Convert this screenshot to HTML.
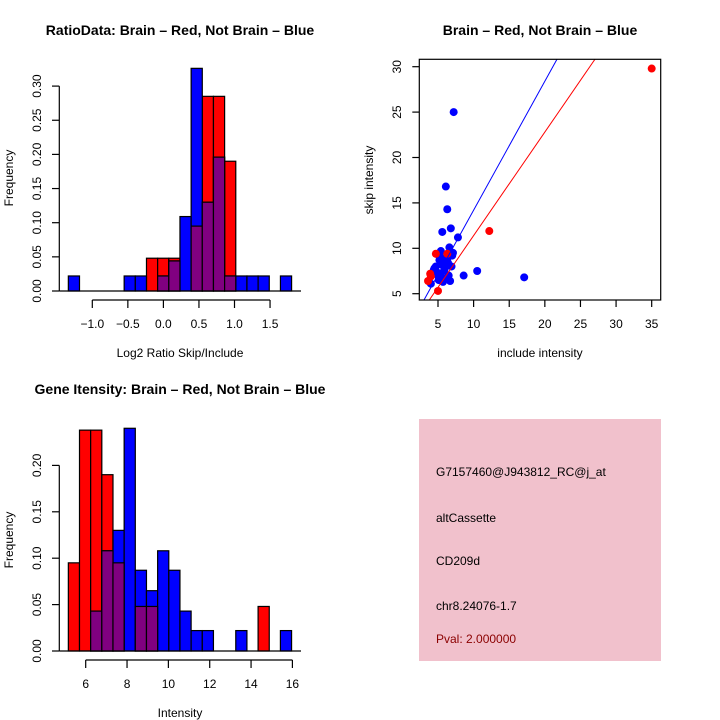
<!DOCTYPE html>
<html><head><meta charset="utf-8"><style>
body{margin:0;background:#fff}
svg{display:block;font-family:"Liberation Sans",sans-serif}
</style></head><body>
<svg id="c" width="720" height="720" viewBox="0 0 720 720" xmlns="http://www.w3.org/2000/svg">
<rect width="720" height="720" fill="#fff"/>
<g id="tl"></g>
<g id="tr"></g>
<g id="bl"></g>
<g id="br">
<rect x="419" y="419" width="242" height="242" fill="#f1c1cc"/>
<text x="436" y="476" font-size="12">G7157460@J943812_RC@j_at</text>
<text x="436" y="522" font-size="12">altCassette</text>
<text x="436" y="565" font-size="12">CD209d</text>
<text x="436" y="610" font-size="12">chr8.24076-1.7</text>
<text x="436" y="643" font-size="12" fill="#8b0000">Pval: 2.000000</text>
</g>
</svg>
<script>
const NS="http://www.w3.org/2000/svg";
// ratio histogram data
const ratioStart=-1.337, ratioWidth=0.157;
const ratioRed=[0,0,0,0,0,0,0,0.048,0.048,0.048,0,0.095,0.285,0.285,0.190,0,0,0,0,0];
const ratioBlue=[0.022,0,0,0,0,0.022,0.022,0,0.022,0.044,0.109,0.326,0.130,0.196,0.022,0.022,0.022,0.022,0,0.022];
const ratioXTicks=[-1.0,-0.5,0.0,0.5,1.0,1.5];
const ratioYTicks=[0,0.05,0.10,0.15,0.20,0.25,0.30];
// gene intensity histogram data
const intStart=5.16, intWidth=0.54;
const intRed=[0.095,0.238,0.238,0.190,0.095,0,0.048,0.048,0,0,0,0,0,0,0,0,0,0.048,0,0];
const intBlue=[0,0,0.043,0.108,0.130,0.240,0.087,0.065,0.108,0.087,0.043,0.022,0.022,0,0,0.022,0,0,0,0.022];
const intXTicks=[6,8,10,12,14,16];
const intYTicks=[0,0.05,0.10,0.15,0.20];
// scatter data
const redX=[35,12.2,5,4.7,6.3,3.6,4,3.9];
const redY=[29.8,11.9,5.3,9.4,9.4,6.4,6.9,7.2];
const blueX=[7.2,6.1,6.3,6.8,5.6,7.8,6.6,5.4,7.1,10.5,8.6,17.1,6.7,4,5,5.2,5.5,5.8,6,6.4,4.5,4.8,5.3,5.9,6.2,6.9,4.3,5.1,5.7,6.5,4.7,5.4,6.1,7,5,5.6,4.4,6.3];
const blueY=[25,16.8,14.3,12.2,11.8,11.2,10.1,9.7,9.5,7.5,7.0,6.8,6.4,6.1,9.3,8.7,8.2,8.5,7.9,8.4,7.8,7.4,7.2,7.6,6.8,8.0,7.3,6.5,6.3,7.0,8.0,9.0,8.6,9.2,7.0,6.6,7.6,8.8];
const scXTicks=[5,10,15,20,25,30,35];
const scYTicks=[5,10,15,20,25,30];
const blueSlope=1.42, redSlope=1.14;

function el(p,tag,a,name,txt){const e=document.createElementNS(NS,tag);for(const k in a)e.setAttribute(k,a[k]);


if(txt!==undefined)e.textContent=txt;p.appendChild(e);return e;}

function hist(g,o){
  const sx=v=>o.x0+(v-o.xv0)*o.xs, sy=v=>o.y0-v*o.ys;
  const draw=(arr,col,nm)=>arr.forEach((v,i)=>{if(v<=0)return;const a=sx(o.start+i*o.w),b=sx(o.start+(i+1)*o.w);
    el(g,'rect',{x:a,y:sy(v),width:b-a,height:sy(0)-sy(v),fill:col,stroke:'#000','stroke-width':1.2},nm+'-'+i);});
  draw(o.red,'#ff0000','bar-red');draw(o.blue,'#0000ff','bar-blue');
  draw(o.red.map((v,i)=>Math.min(v,o.blue[i])),'#800080','bar-overlap');
  el(g,'line',{x1:59.3,x2:301,y1:sy(0),y2:sy(0),stroke:'#000','stroke-width':1.2},'baseline');
  const yt=o.yt;
  el(g,'line',{x1:59.3,x2:59.3,y1:sy(yt[0]),y2:sy(yt[yt.length-1]),stroke:'#000','stroke-width':1.2},'y-axis');
  yt.forEach(t=>{el(g,'line',{x1:52,x2:59.3,y1:sy(t),y2:sy(t),stroke:'#000','stroke-width':1.2},'y-tick');
    el(g,'text',{x:0,y:0,'font-size':12,'text-anchor':'middle',transform:`translate(41,${sy(t)}) rotate(-90)`},'y-tick-label',t.toFixed(2));});
  const xt=o.xt;
  el(g,'line',{x1:sx(xt[0]),x2:sx(xt[xt.length-1]),y1:o.xay,y2:o.xay,stroke:'#000','stroke-width':1.2},'x-axis');
  xt.forEach(t=>{el(g,'line',{x1:sx(t),x2:sx(t),y1:o.xay,y2:o.xay+8,stroke:'#000','stroke-width':1.2},'x-tick');
    el(g,'text',{x:sx(t),y:o.xay+28,'font-size':12,'text-anchor':'middle'},'x-tick-label',o.fmt(t).replace('-','\u2212'));});
  el(g,'text',{x:0,y:0,'font-size':12,'text-anchor':'middle',transform:`translate(13,${o.ylabY}) rotate(-90)`},'y-axis-title','Frequency');
  el(g,'text',{x:180,y:o.xlabY,'font-size':12,'text-anchor':'middle'},'x-axis-title',o.xlab);
  el(g,'text',{x:180,y:o.titleY,'font-size':14,'font-weight':'bold','text-anchor':'middle'},'chart-title',o.title);
}
hist(document.getElementById('tl'),{x0:92.3,xv0:-1,xs:71.1,y0:291,ys:683,start:ratioStart,w:ratioWidth,red:ratioRed,blue:ratioBlue,
  yt:ratioYTicks,xt:ratioXTicks,xay:300,fmt:t=>t.toFixed(1),ylabY:178,xlab:'Log2 Ratio Skip/Include',xlabY:357,titleY:35,
  title:'RatioData: Brain \u2013 Red, Not Brain \u2013 Blue'});
hist(document.getElementById('bl'),{x0:85.7,xv0:6,xs:20.67,y0:651,ys:928,start:intStart,w:intWidth,red:intRed,blue:intBlue,
  yt:intYTicks,xt:intXTicks,xay:660,fmt:t=>String(t),ylabY:540,xlab:'Intensity',xlabY:717,titleY:394,
  title:'Gene Itensity: Brain \u2013 Red, Not Brain \u2013 Blue'});

(function(){
  const g=document.getElementById('tr');
  const L=419.3,R=660.7,T=59.3,B=300;
  const sx=v=>438+(v-5)*7.123, sy=v=>293.7-(v-5)*9.08;
  const cp=el(g,'clipPath',{id:'scclip'},'clip');el(cp,'rect',{x:L,y:T,width:R-L,height:B-T},'clip-rect');
  const pts=el(g,'g',{'clip-path':'url(#scclip)'},'plot-area');
  blueX.forEach((x,i)=>el(pts,'circle',{cx:sx(x),cy:sy(blueY[i]),r:4,fill:'#0000ff'},'point-blue'));
  redX.forEach((x,i)=>el(pts,'circle',{cx:sx(x),cy:sy(redY[i]),r:4,fill:'#ff0000'},'point-red'));
  el(pts,'line',{x1:sx(0),y1:sy(0),x2:sx(40),y2:sy(40*blueSlope),stroke:'#0000ff','stroke-width':1},'fit-line-blue');
  el(pts,'line',{x1:sx(0),y1:sy(0),x2:sx(40),y2:sy(40*redSlope),stroke:'#ff0000','stroke-width':1},'fit-line-red');
  el(g,'rect',{x:L,y:T,width:R-L,height:B-T,fill:'none',stroke:'#000','stroke-width':1.2},'plot-box');
  scXTicks.forEach(t=>{el(g,'line',{x1:sx(t),x2:sx(t),y1:B,y2:B+7,stroke:'#000','stroke-width':1.2},'x-tick');
    el(g,'text',{x:sx(t),y:B+28,'font-size':12,'text-anchor':'middle'},'x-tick-label',String(t));});
  scYTicks.forEach(t=>{el(g,'line',{x1:L-7,x2:L,y1:sy(t),y2:sy(t),stroke:'#000','stroke-width':1.2},'y-tick');
    el(g,'text',{x:0,y:0,'font-size':12,'text-anchor':'middle',transform:`translate(401,${sy(t)}) rotate(-90)`},'y-tick-label',String(t));});
  el(g,'text',{x:540,y:357,'font-size':12,'text-anchor':'middle'},'x-axis-title','include intensity');
  el(g,'text',{x:0,y:0,'font-size':12,'text-anchor':'middle',transform:'translate(373,180) rotate(-90)'},'y-axis-title','skip intensity');
  el(g,'text',{x:540,y:35,'font-size':14,'font-weight':'bold','text-anchor':'middle'},'chart-title','Brain \u2013 Red, Not Brain \u2013 Blue');
})();
</script>
</body></html>
